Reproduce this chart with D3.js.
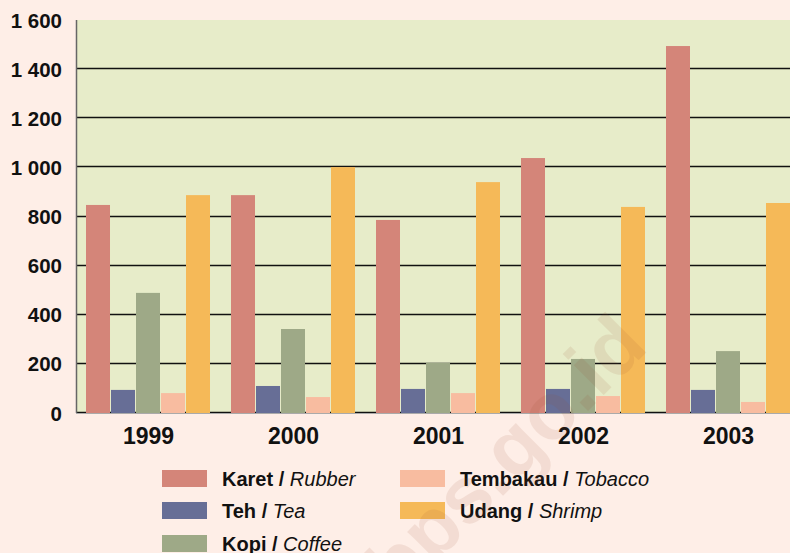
<!DOCTYPE html>
<html><head><meta charset="utf-8">
<script src="https://cdn.jsdelivr.net/npm/d3@7/dist/d3.min.js"></script>
<style>html,body{margin:0;padding:0;background:#FEEEE7;}svg{display:block;font-family:"Liberation Sans",Arial,sans-serif;}</style>
</head><body><svg id="c" width="790" height="553"></svg>
<script>
const years = ["1999","2000","2001","2002","2003"];
const seriesNames = ["Karet","Teh","Kopi","Tembakau","Udang"];
const seriesEnglish = ["Rubber","Tea","Coffee","Tobacco","Shrimp"];
const karet    = [847, 887, 786, 1038, 1494];
const teh      = [94, 110, 98, 98, 94];
const kopi     = [489, 342, 204, 220, 252];
const tembakau = [81, 65, 81, 69, 45];
const udang    = [887, 1001, 940, 839, 855];
const yTicks = [0,200,400,600,800,1000,1200,1400,1600];
const colors = ["#D48579","#676E96","#9EA987","#F8BCA0","#F5B958"];

(function(){
const values = [karet, teh, kopi, tembakau, udang];
const svg = d3.select("#c");
const pL = 76, pR = 790, pT = 20, pB = 413;

const y = d3.scaleLinear().domain([0,1600]).range([pB, pT]);
const x0 = d3.scaleBand().domain(years).range([76, 801]).paddingInner(20/145).paddingOuter(0.069);
const x1 = d3.scaleBand().domain(seriesNames).range([0, x0.bandwidth()]);

svg.append("rect").attr("x", pL).attr("y", pT).attr("width", pR-pL).attr("height", pB-pT).attr("fill","#E7ECC9");

svg.append("g").selectAll("line").data(yTicks.filter(t => t < 1600)).join("line")
  .attr("x1", pL).attr("x2", pR)
  .attr("y1", d => Math.round(y(d)) - 0.5).attr("y2", d => Math.round(y(d)) - 0.5)
  .attr("stroke","#111").attr("stroke-width",1.3);

const groups = svg.append("g").selectAll("g").data(years).join("g")
  .attr("transform", d => `translate(${x0(d)},0)`);
groups.selectAll("rect").data((d,i) => seriesNames.map((s,j) => ({s, v: values[j][i], j})))
  .join("rect")
  .attr("x", d => x1(d.s))
  .attr("width", x1.bandwidth() - 1)
  .attr("y", d => y(d.v))
  .attr("height", d => pB - y(d.v))
  .attr("fill", d => colors[d.j]);

svg.append("line").attr("x1", pL).attr("x2", pR).attr("y1", pB+0.5).attr("y2", pB+0.5).attr("stroke","#aaa").attr("stroke-width",1);
svg.append("line").attr("x1", pL+0.5).attr("x2", pL+0.5).attr("y1", pT).attr("y2", pB).attr("stroke","#666").attr("stroke-width",1.5);

const fmt = v => d3.format(",")(v).replace(/,/g, " ");
svg.append("g").selectAll("text").data(yTicks).join("text")
  .attr("x", 62).attr("y", d => y(d) + 7.5)
  .attr("text-anchor","end").attr("font-weight","bold").attr("font-size",20.5).attr("fill","#111")
  .text(d => fmt(d));

svg.append("g").selectAll("text").data(years).join("text")
  .attr("x", d => x0(d) + x0.bandwidth()/2).attr("y", 443.5)
  .attr("text-anchor","middle").attr("font-weight","bold").attr("font-size",23).attr("fill","#111")
  .text(d => d);

const legPos = [[162,470],[162,502],[162,535],[400,470],[400,502]];
const leg = svg.append("g").selectAll("g").data(seriesNames).join("g")
  .attr("transform", (d,i) => `translate(${legPos[i][0]},${legPos[i][1]})`);
leg.append("rect").attr("width",45).attr("height",17).attr("fill",(d,i) => colors[i]);
const lt = leg.append("text").attr("x",60).attr("y",16).attr("font-size",20).attr("fill","#111");
lt.append("tspan").attr("font-weight","bold").text(d => d + " / ");
lt.append("tspan").attr("font-style","italic").text((d,i) => seriesEnglish[i]);

svg.append("text").attr("transform","translate(505,455) rotate(-45)")
  .attr("text-anchor","middle").attr("dominant-baseline","central")
  .attr("font-size",80).attr("font-weight","bold").attr("fill","#9a4a2a").attr("opacity",0.1)
  .text("bps.go.id");
})();
</script></body></html>
